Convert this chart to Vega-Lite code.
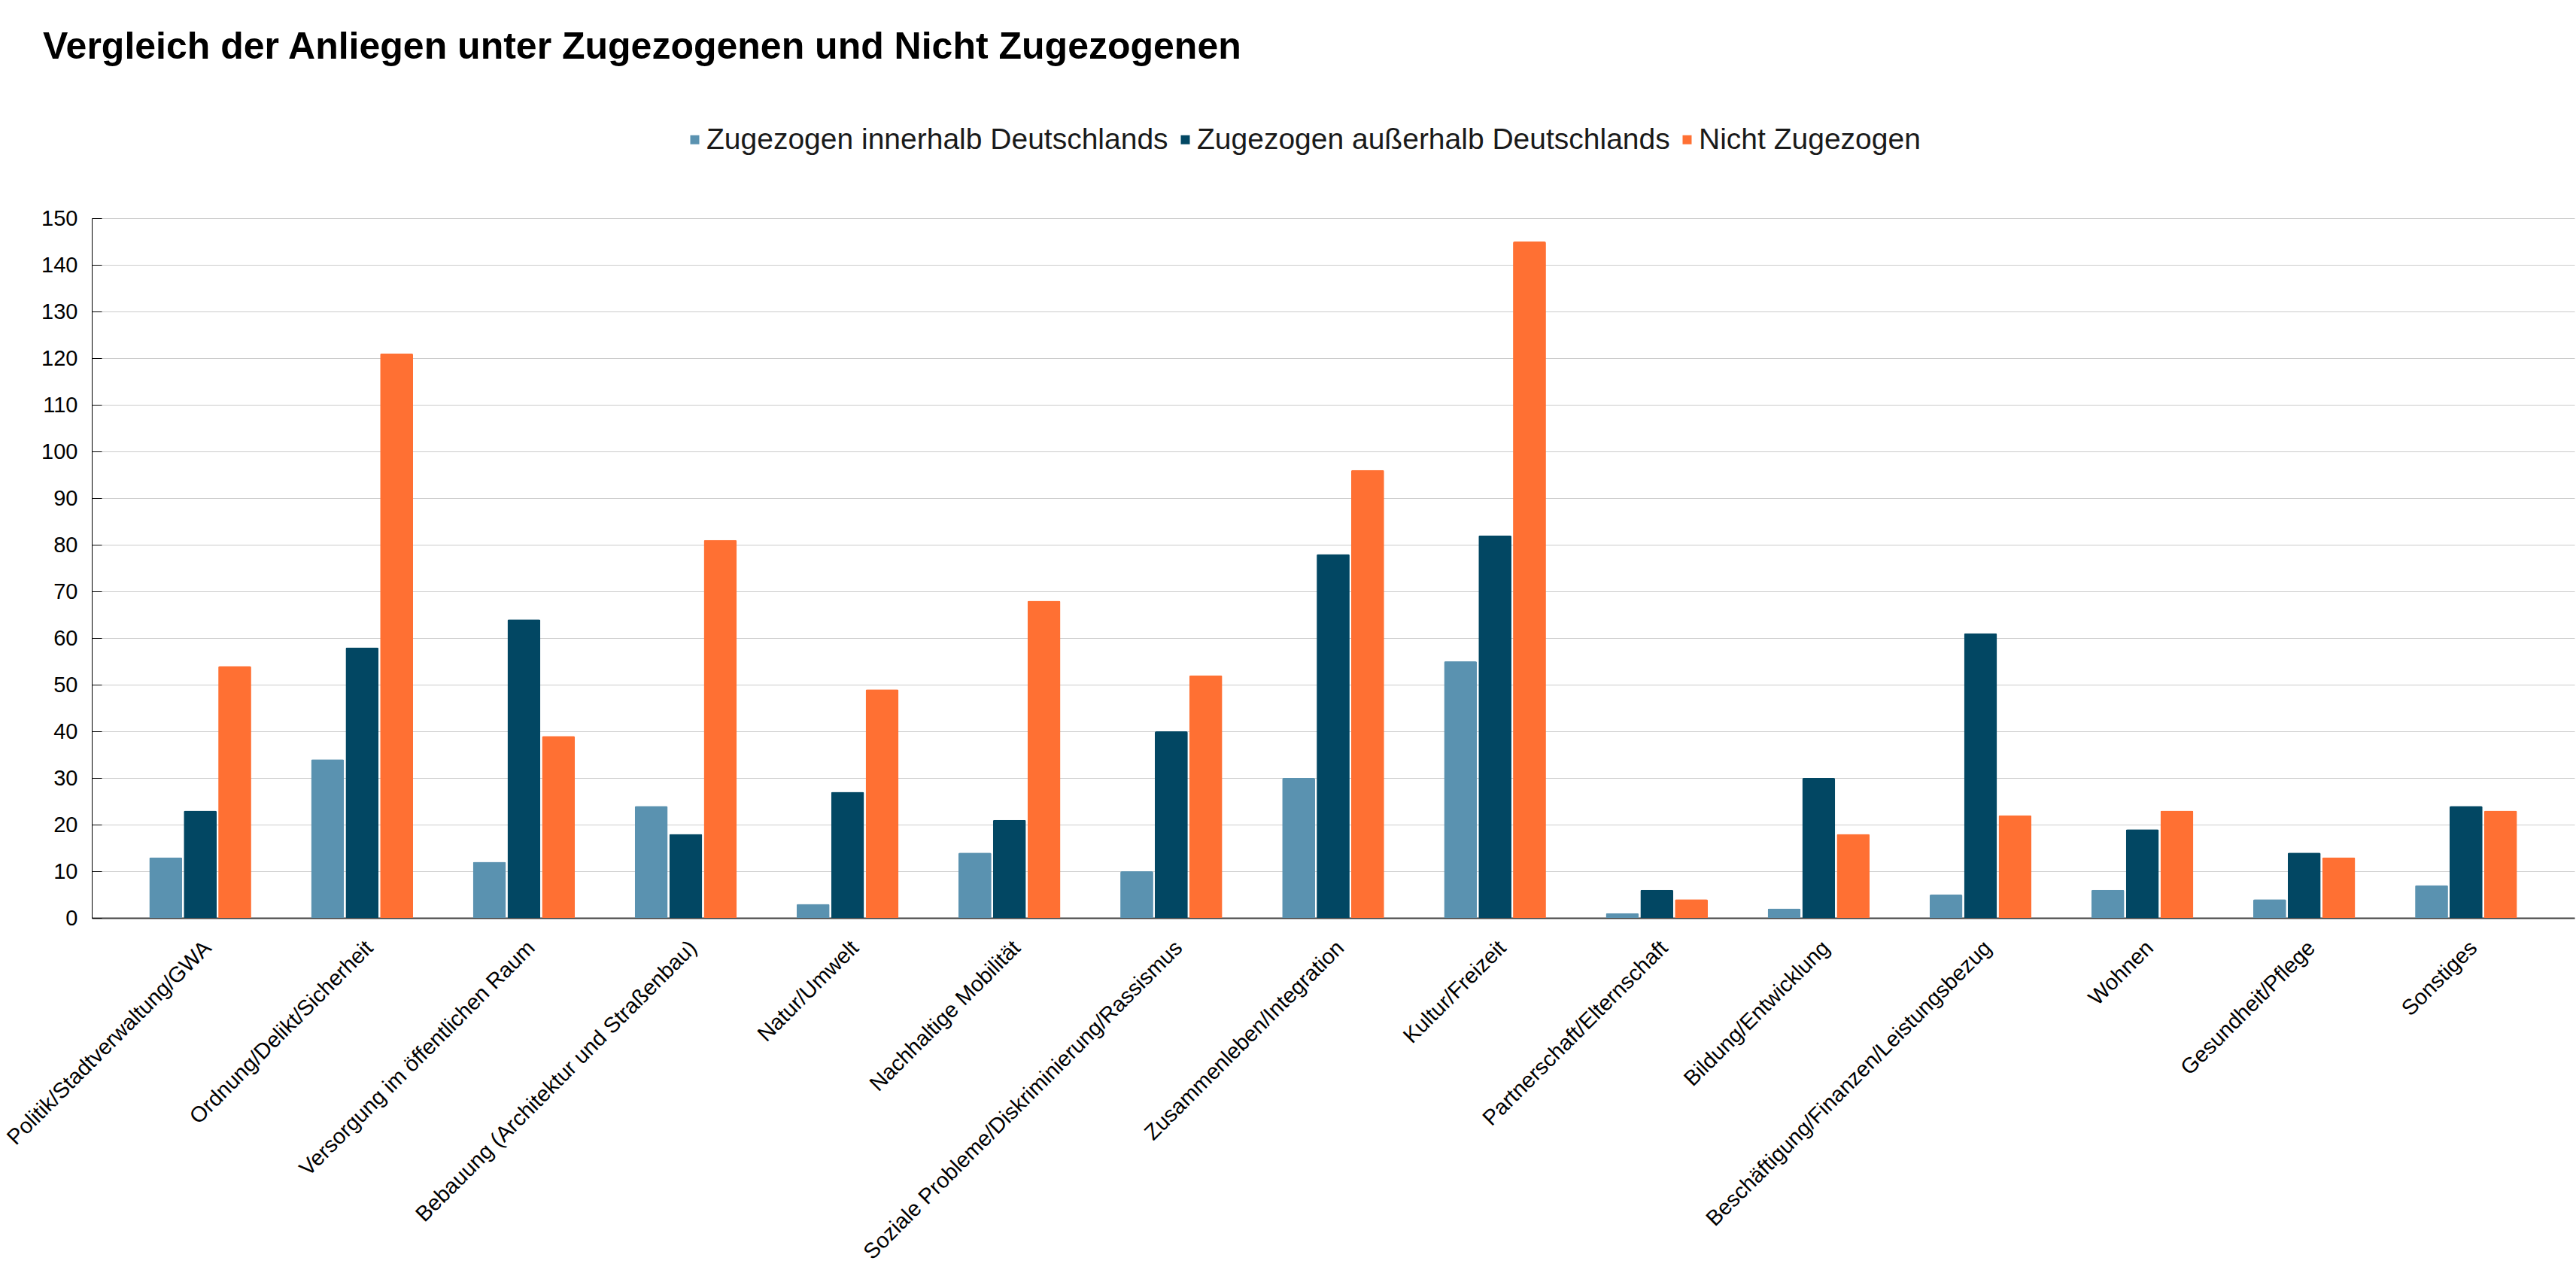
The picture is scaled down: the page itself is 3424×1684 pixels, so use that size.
{
  "$schema": "https://vega.github.io/schema/vega-lite/v6.json",
  "description": "Vergleich der Anliegen unter Zugezogenen und Nicht Zugezogenen",
  "width": 3300,
  "height": 930,
  "autosize": {"type": "none"},
  "padding": {"left": 122, "top": 290, "right": 2, "bottom": 464},
  "background": "white",
  "config": {
    "font": "Liberation Sans",
    "view": {"stroke": null}
  },
  "title": {
    "text": "Vergleich der Anliegen unter Zugezogenen und Nicht Zugezogenen",
    "anchor": "start",
    "frame": "group",
    "dx": -65,
    "offset": 78,
    "fontSize": 50,
    "fontWeight": "bold",
    "font": "Liberation Sans",
    "color": "#000000"
  },
  "data": {
    "values": [
      {"anliegen": "Politik/Stadtverwaltung/GWA", "gruppe": "Zugezogen innerhalb Deutschlands", "anzahl": 13},
      {"anliegen": "Politik/Stadtverwaltung/GWA", "gruppe": "Zugezogen außerhalb Deutschlands", "anzahl": 23},
      {"anliegen": "Politik/Stadtverwaltung/GWA", "gruppe": "Nicht Zugezogen", "anzahl": 54},
      {"anliegen": "Ordnung/Delikt/Sicherheit", "gruppe": "Zugezogen innerhalb Deutschlands", "anzahl": 34},
      {"anliegen": "Ordnung/Delikt/Sicherheit", "gruppe": "Zugezogen außerhalb Deutschlands", "anzahl": 58},
      {"anliegen": "Ordnung/Delikt/Sicherheit", "gruppe": "Nicht Zugezogen", "anzahl": 121},
      {"anliegen": "Versorgung im öffentlichen Raum", "gruppe": "Zugezogen innerhalb Deutschlands", "anzahl": 12},
      {"anliegen": "Versorgung im öffentlichen Raum", "gruppe": "Zugezogen außerhalb Deutschlands", "anzahl": 64},
      {"anliegen": "Versorgung im öffentlichen Raum", "gruppe": "Nicht Zugezogen", "anzahl": 39},
      {"anliegen": "Bebauung (Architektur und Straßenbau)", "gruppe": "Zugezogen innerhalb Deutschlands", "anzahl": 24},
      {"anliegen": "Bebauung (Architektur und Straßenbau)", "gruppe": "Zugezogen außerhalb Deutschlands", "anzahl": 18},
      {"anliegen": "Bebauung (Architektur und Straßenbau)", "gruppe": "Nicht Zugezogen", "anzahl": 81},
      {"anliegen": "Natur/Umwelt", "gruppe": "Zugezogen innerhalb Deutschlands", "anzahl": 3},
      {"anliegen": "Natur/Umwelt", "gruppe": "Zugezogen außerhalb Deutschlands", "anzahl": 27},
      {"anliegen": "Natur/Umwelt", "gruppe": "Nicht Zugezogen", "anzahl": 49},
      {"anliegen": "Nachhaltige Mobilität", "gruppe": "Zugezogen innerhalb Deutschlands", "anzahl": 14},
      {"anliegen": "Nachhaltige Mobilität", "gruppe": "Zugezogen außerhalb Deutschlands", "anzahl": 21},
      {"anliegen": "Nachhaltige Mobilität", "gruppe": "Nicht Zugezogen", "anzahl": 68},
      {"anliegen": "Soziale Probleme/Diskriminierung/Rassismus", "gruppe": "Zugezogen innerhalb Deutschlands", "anzahl": 10},
      {"anliegen": "Soziale Probleme/Diskriminierung/Rassismus", "gruppe": "Zugezogen außerhalb Deutschlands", "anzahl": 40},
      {"anliegen": "Soziale Probleme/Diskriminierung/Rassismus", "gruppe": "Nicht Zugezogen", "anzahl": 52},
      {"anliegen": "Zusammenleben/Integration", "gruppe": "Zugezogen innerhalb Deutschlands", "anzahl": 30},
      {"anliegen": "Zusammenleben/Integration", "gruppe": "Zugezogen außerhalb Deutschlands", "anzahl": 78},
      {"anliegen": "Zusammenleben/Integration", "gruppe": "Nicht Zugezogen", "anzahl": 96},
      {"anliegen": "Kultur/Freizeit", "gruppe": "Zugezogen innerhalb Deutschlands", "anzahl": 55},
      {"anliegen": "Kultur/Freizeit", "gruppe": "Zugezogen außerhalb Deutschlands", "anzahl": 82},
      {"anliegen": "Kultur/Freizeit", "gruppe": "Nicht Zugezogen", "anzahl": 145},
      {"anliegen": "Partnerschaft/Elternschaft", "gruppe": "Zugezogen innerhalb Deutschlands", "anzahl": 1},
      {"anliegen": "Partnerschaft/Elternschaft", "gruppe": "Zugezogen außerhalb Deutschlands", "anzahl": 6},
      {"anliegen": "Partnerschaft/Elternschaft", "gruppe": "Nicht Zugezogen", "anzahl": 4},
      {"anliegen": "Bildung/Entwicklung", "gruppe": "Zugezogen innerhalb Deutschlands", "anzahl": 2},
      {"anliegen": "Bildung/Entwicklung", "gruppe": "Zugezogen außerhalb Deutschlands", "anzahl": 30},
      {"anliegen": "Bildung/Entwicklung", "gruppe": "Nicht Zugezogen", "anzahl": 18},
      {"anliegen": "Beschäftigung/Finanzen/Leistungsbezug", "gruppe": "Zugezogen innerhalb Deutschlands", "anzahl": 5},
      {"anliegen": "Beschäftigung/Finanzen/Leistungsbezug", "gruppe": "Zugezogen außerhalb Deutschlands", "anzahl": 61},
      {"anliegen": "Beschäftigung/Finanzen/Leistungsbezug", "gruppe": "Nicht Zugezogen", "anzahl": 22},
      {"anliegen": "Wohnen", "gruppe": "Zugezogen innerhalb Deutschlands", "anzahl": 6},
      {"anliegen": "Wohnen", "gruppe": "Zugezogen außerhalb Deutschlands", "anzahl": 19},
      {"anliegen": "Wohnen", "gruppe": "Nicht Zugezogen", "anzahl": 23},
      {"anliegen": "Gesundheit/Pflege", "gruppe": "Zugezogen innerhalb Deutschlands", "anzahl": 4},
      {"anliegen": "Gesundheit/Pflege", "gruppe": "Zugezogen außerhalb Deutschlands", "anzahl": 14},
      {"anliegen": "Gesundheit/Pflege", "gruppe": "Nicht Zugezogen", "anzahl": 13},
      {"anliegen": "Sonstiges", "gruppe": "Zugezogen innerhalb Deutschlands", "anzahl": 7},
      {"anliegen": "Sonstiges", "gruppe": "Zugezogen außerhalb Deutschlands", "anzahl": 24},
      {"anliegen": "Sonstiges", "gruppe": "Nicht Zugezogen", "anzahl": 23}
    ]
  },
  "mark": {"type": "bar", "cornerRadiusTopLeft": 2, "cornerRadiusTopRight": 2},
  "encoding": {
    "x": {
      "field": "anliegen",
      "type": "nominal",
      "sort": null,
      "title": null,
      "scale": {"paddingInner": 0.37, "paddingOuter": 0.355},
      "axis": {
        "labelAngle": -45,
        "labelAlign": "right",
        "labelBaseline": "top",
        "labelFontSize": 29,
        "labelColor": "#000000",
        "labelPadding": 25,
        "labelLimit": 0,
        "ticks": false,
        "domainColor": "#404040",
        "domainWidth": 2,
        "grid": false
      }
    },
    "xOffset": {
      "field": "gruppe",
      "type": "nominal",
      "sort": ["Zugezogen innerhalb Deutschlands", "Zugezogen außerhalb Deutschlands", "Nicht Zugezogen"],
      "scale": {"paddingInner": 0.045, "paddingOuter": 0}
    },
    "y": {
      "field": "anzahl",
      "type": "quantitative",
      "title": null,
      "scale": {"domain": [0, 150], "nice": false},
      "axis": {
        "values": [0, 10, 20, 30, 40, 50, 60, 70, 80, 90, 100, 110, 120, 130, 140, 150],
        "labelFontSize": 29,
        "labelColor": "#000000",
        "tickSize": -13,
        "tickColor": "#000000",
        "labelPadding": 32,
        "domainColor": "#000000",
        "gridColor": "#cccccc",
        "gridWidth": 1
      }
    },
    "color": {
      "field": "gruppe",
      "type": "nominal",
      "scale": {
        "domain": ["Zugezogen innerhalb Deutschlands", "Zugezogen außerhalb Deutschlands", "Nicht Zugezogen"],
        "range": ["#5a92b0", "#024763", "#ff7033"]
      },
      "legend": {
        "title": null,
        "orient": "none",
        "direction": "horizontal",
        "legendX": 782,
        "legendY": -124,
        "padding": 0,
        "symbolType": "square",
        "symbolSize": 144,
        "symbolStrokeWidth": 0,
        "labelFontSize": 39,
        "labelColor": "#1a1a1a",
        "labelOffset": -4,
        "labelLimit": 0,
        "columnPadding": 3
      }
    }
  }
}
